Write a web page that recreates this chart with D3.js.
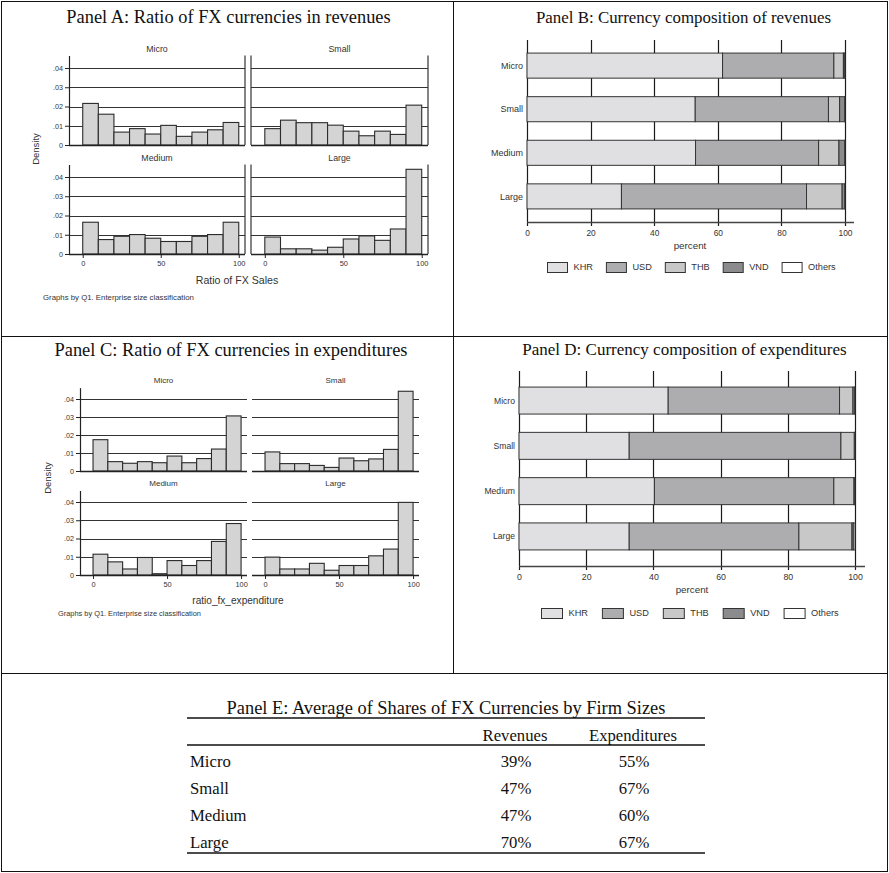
<!DOCTYPE html>
<html>
<head>
<meta charset="utf-8">
<script src="https://cdn.jsdelivr.net/npm/d3@7"></script>
<style>
  body { margin: 0; background: #fff; }
  svg { display: block; }
</style>
</head>
<body>
<svg id="fig" width="889" height="873"></svg>
<script>
// ---- Data ---------------------------------------------------------------
const sizeClasses = ["Micro", "Small", "Medium", "Large"];
const binStarts = [0, 10, 20, 30, 40, 50, 60, 70, 80, 90];
const binWidth = 10;
const densityTicks = [0, 0.01, 0.02, 0.03, 0.04];
const densityTickLabels = ["0", ".01", ".02", ".03", ".04"];
const ratioTicks = [0, 50, 100];
const percentTicks = [0, 20, 40, 60, 80, 100];

// Density of the FX share of sales, 10-point bins
const revMicro  = [0.0216, 0.0160, 0.0067, 0.0085, 0.0057, 0.0102, 0.0045, 0.0067, 0.0079, 0.0117];
const revSmall  = [0.0085, 0.0129, 0.0116, 0.0116, 0.0103, 0.0072, 0.0048, 0.0072, 0.0055, 0.0207];
const revMedium = [0.0165, 0.0075, 0.0092, 0.0101, 0.0082, 0.0065, 0.0065, 0.0092, 0.0101, 0.0165];
const revLarge  = [0.0088, 0.0027, 0.0027, 0.0020, 0.0035, 0.0078, 0.0094, 0.0071, 0.0130, 0.0440];

// Density of the FX share of expenditures, 10-point bins
const expMicro  = [0.0174, 0.0052, 0.0043, 0.0052, 0.0046, 0.0083, 0.0046, 0.0069, 0.0122, 0.0306];
const expSmall  = [0.0106, 0.0041, 0.0041, 0.0031, 0.0020, 0.0072, 0.0057, 0.0067, 0.0120, 0.0443];
const expMedium = [0.0114, 0.0072, 0.0033, 0.0096, 0.0007, 0.0079, 0.0052, 0.0079, 0.0184, 0.0282];
const expLarge  = [0.0098, 0.0033, 0.0033, 0.0064, 0.0026, 0.0052, 0.0052, 0.0105, 0.0142, 0.0398];

// Currency composition (percent), in sizeClasses order
const currencies = ["KHR", "USD", "THB", "VND", "Others"];
const revKHR    = [61.5, 52.9, 53.0, 29.7];
const revUSD    = [35.0, 41.9, 38.7, 58.2];
const revTHB    = [3.0, 3.5, 6.4, 11.2];
const revVND    = [0.4, 1.6, 1.8, 0.8];
const revOthers = [0.1, 0.1, 0.1, 0.1];

const expKHR    = [44.4, 32.8, 40.3, 32.8];
const expUSD    = [51.0, 63.0, 53.4, 50.5];
const expTHB    = [4.0, 4.0, 6.0, 15.8];
const expVND    = [0.5, 0.1, 0.2, 0.4];
const expOthers = [0.1, 0.1, 0.1, 0.5];

// Average FX share by firm size (percent)
const avgRevenues     = [39, 47, 47, 70];
const avgExpenditures = [55, 67, 60, 67];

// ---- Styling ------------------------------------------------------------
const SERIF = "'Liberation Serif', 'Times New Roman', serif";
const SANS = "'Liberation Sans', Arial, sans-serif";
const INK = "#222";
const currencyFill = { KHR: "#e0e0e2", USD: "#adadaf", THB: "#c8c8c9", VND: "#8b8b8d", Others: "#ffffff" };

const svg = d3.select("#fig");
svg.append("rect").attr("width", 889).attr("height", 873).attr("fill", "#fff");

// ---- Panel frame --------------------------------------------------------
const frame = svg.append("g").attr("stroke", "#111").attr("stroke-width", 1).attr("fill", "none");
frame.append("rect").attr("x", 1.5).attr("y", 1.5).attr("width", 886).attr("height", 870);
frame.append("line").attr("x1", 453.5).attr("x2", 453.5).attr("y1", 1.5).attr("y2", 673.5);
frame.append("line").attr("x1", 1.5).attr("x2", 887.5).attr("y1", 336.5).attr("y2", 336.5);
frame.append("line").attr("x1", 1.5).attr("x2", 887.5).attr("y1", 673.5).attr("y2", 673.5);

function title(text, x, y, size) {
  svg.append("text").attr("x", x).attr("y", y).attr("text-anchor", "middle")
    .attr("font-family", SERIF).attr("font-size", size).attr("fill", "#111").text(text);
}

// ---- Histogram small multiple ------------------------------------------
function histogram(values, xr, yBase, yPer01, label, opts) {
  const g = svg.append("g");
  const x = d3.scaleLinear().domain([-8.8, 104]).range(xr);
  const y = d3.scaleLinear().domain([0, 0.01]).range([yBase, yBase - yPer01]);
  const yTop = y(opts.yMax);

  // horizontal grid
  g.selectAll(null).data(densityTicks.slice(1)).join("line")
    .attr("x1", xr[0]).attr("x2", xr[1])
    .attr("y1", d => Math.round(y(d)) + 0.5).attr("y2", d => Math.round(y(d)) + 0.5)
    .attr("stroke", "#333").attr("stroke-width", 1);

  // bars
  g.selectAll(null).data(values).join("rect")
    .attr("x", (d, i) => x(binStarts[i]))
    .attr("width", (d, i) => x(binStarts[i] + binWidth) - x(binStarts[i]))
    .attr("y", d => y(d))
    .attr("height", d => y(0) - y(d))
    .attr("fill", "#d4d4d4").attr("stroke", "#2b2b2b").attr("stroke-width", 1.1);

  // baseline
  g.append("line").attr("x1", xr[0]).attr("x2", xr[1])
    .attr("y1", Math.round(y(0)) + 0.5).attr("y2", Math.round(y(0)) + 0.5)
    .attr("stroke", "#222").attr("stroke-width", 1.3);

  // left axis (left column only) / side frame lines
  if (opts.yAxis) {
    const ax = g.append("g").attr("transform", `translate(${xr[0]},0)`)
      .call(d3.axisLeft(d3.scaleLinear().domain([0, opts.yMax]).range([y(0), yTop]))
        .tickValues(densityTicks).tickFormat((d, i) => densityTickLabels[i])
        .tickSize(4).tickSizeOuter(0).tickPadding(2));
    ax.select(".domain").attr("stroke", "#222").attr("stroke-width", 1.2);
    ax.selectAll(".tick line").attr("stroke", "#222");
    ax.selectAll("text").attr("font-family", SANS).attr("font-size", 7.2).attr("fill", "#333");
  }
  if (opts.sideLines) {
    const sides = opts.yAxis ? [xr[1]] : [xr[0], xr[1]];
    g.selectAll(null).data(sides).join("line")
      .attr("x1", d => d).attr("x2", d => d).attr("y1", yTop).attr("y2", y(0))
      .attr("stroke", "#333").attr("stroke-width", 1.2);
  }
  if (opts.xAxis) {
    const ax = g.append("g").attr("transform", `translate(0,${y(0)})`)
      .call(d3.axisBottom(x).tickValues(ratioTicks).tickFormat(d3.format("d"))
        .tickSize(4).tickSizeOuter(0).tickPadding(3));
    ax.select(".domain").remove();
    ax.selectAll(".tick line").attr("stroke", "#222");
    ax.selectAll("text").attr("font-family", SANS).attr("font-size", 7.4).attr("fill", "#333");
  }
  // subplot label
  svg.append("text").attr("x", (xr[0] + xr[1]) / 2).attr("y", opts.labelY)
    .attr("text-anchor", "middle").attr("dy", "0.35em")
    .attr("font-family", SANS).attr("font-size", opts.labelSize).attr("fill", "#333").text(label);
}

// ---- Panel A ------------------------------------------------------------
title("Panel A: Ratio of FX currencies in revenues", 228.5, 23, 18.4);
const aCols = [[69, 245], [251, 428]];
const revSeries = [revMicro, revSmall, revMedium, revLarge];
revSeries.forEach((vals, i) => {
  const col = i % 2, row = Math.floor(i / 2);
  histogram(vals, aCols[col], row === 0 ? 145 : 254, 19.25, sizeClasses[i], {
    yMax: 0.0465, yAxis: col === 0, xAxis: row === 1, sideLines: true,
    labelY: row === 0 ? 49 : 158, labelSize: 8.8
  });
});
svg.append("text").attr("transform", "translate(36,149) rotate(-90)")
  .attr("text-anchor", "middle").attr("dy", "0.35em")
  .attr("font-family", SANS).attr("font-size", 9.5).attr("fill", "#333").text("Density");
svg.append("text").attr("x", 237).attr("y", 280).attr("text-anchor", "middle").attr("dy", "0.35em")
  .attr("font-family", SANS).attr("font-size", 10.6).attr("fill", "#333").text("Ratio of FX Sales");
svg.append("text").attr("x", 43).attr("y", 297).attr("dy", "0.35em")
  .attr("font-family", SANS).attr("font-size", 7.8).attr("fill", "#333")
  .text("Graphs by Q1. Enterprise size classification");

// ---- Panel C ------------------------------------------------------------
title("Panel C: Ratio of FX currencies in expenditures", 231, 356, 18.4);
const cCols = [[80, 247], [252, 419]];
const expSeries = [expMicro, expSmall, expMedium, expLarge];
expSeries.forEach((vals, i) => {
  const col = i % 2, row = Math.floor(i / 2);
  histogram(vals, cCols[col], row === 0 ? 471 : 575, row === 0 ? 18 : 18.25, sizeClasses[i], {
    yMax: 0.0463, yAxis: col === 0, xAxis: row === 1, sideLines: false,
    labelY: row === 0 ? 380 : 483, labelSize: 8
  });
});
svg.append("text").attr("transform", "translate(48,478) rotate(-90)")
  .attr("text-anchor", "middle").attr("dy", "0.35em")
  .attr("font-family", SANS).attr("font-size", 9.5).attr("fill", "#333").text("Density");
svg.append("text").attr("x", 238).attr("y", 600).attr("text-anchor", "middle").attr("dy", "0.35em")
  .attr("font-family", SANS).attr("font-size", 10.1).attr("fill", "#333").text("ratio_fx_expenditure");
svg.append("text").attr("x", 58).attr("y", 613).attr("dy", "0.35em")
  .attr("font-family", SANS).attr("font-size", 7.4).attr("fill", "#333")
  .text("Graphs by Q1. Enterprise size classification");

// ---- Stacked composition bars ------------------------------------------
function compositionChart(cols, o) {
  const rows = sizeClasses.map((s, i) => {
    const r = { size: s };
    currencies.forEach((c, k) => { r[c] = cols[k][i]; });
    return r;
  });
  const series = d3.stack().keys(currencies)(rows);
  const x = d3.scaleLinear().domain([0, 100]).range(o.xr);
  const y = d3.scaleBand().domain(sizeClasses).range(o.yr)
    .paddingInner(o.padIn).paddingOuter(o.padOut);
  const g = svg.append("g");

  // vertical grid (extends below the axis as tick marks)
  g.selectAll(null).data(percentTicks).join("line")
    .attr("x1", d => Math.round(x(d)) + 0.5).attr("x2", d => Math.round(x(d)) + 0.5)
    .attr("y1", o.yr[0]).attr("y2", o.yr[1] + 4)
    .attr("stroke", "#1a1a1a").attr("stroke-width", 1.2);

  // stacked bars
  g.selectAll(null).data(series).join("g")
    .attr("fill", d => currencyFill[d.key])
    .selectAll("rect").data(d => d).join("rect")
    .attr("x", d => x(d[0])).attr("width", d => x(d[1]) - x(d[0]))
    .attr("y", d => y(d.data.size)).attr("height", y.bandwidth())
    .attr("stroke", "#333").attr("stroke-width", 1);

  // bottom axis
  g.append("line").attr("x1", x(0)).attr("x2", x(100) + o.axisExtra)
    .attr("y1", o.yr[1] + 0.5).attr("y2", o.yr[1] + 0.5)
    .attr("stroke", "#444").attr("stroke-width", 1.3);
  const ax = g.append("g").attr("transform", `translate(0,${o.yr[1]})`)
    .call(d3.axisBottom(x).tickValues(percentTicks).tickFormat(d3.format("d"))
      .tickSize(4).tickSizeOuter(0).tickPadding(4));
  ax.select(".domain").remove();
  ax.selectAll(".tick line").remove();
  ax.selectAll("text").attr("font-family", SANS).attr("font-size", o.tickSize).attr("fill", "#333");

  // category labels
  g.selectAll(null).data(sizeClasses).join("text")
    .attr("x", x(0) - 4).attr("y", d => y(d) + y.bandwidth() / 2)
    .attr("text-anchor", "end").attr("dy", "0.35em")
    .attr("font-family", SANS).attr("font-size", o.catSize).attr("fill", "#333").text(d => d);

  // axis title
  svg.append("text").attr("x", o.percentX).attr("y", o.percentY)
    .attr("text-anchor", "middle").attr("dy", "0.35em")
    .attr("font-family", SANS).attr("font-size", 9.8).attr("fill", "#333").text("percent");

  // legend
  const lg = svg.append("g");
  let cx = o.legendX;
  currencies.forEach(c => {
    lg.append("rect").attr("x", cx + 0.5).attr("y", o.legendY - 5 + 0.5)
      .attr("width", o.boxW).attr("height", 10)
      .attr("fill", currencyFill[c]).attr("stroke", "#333").attr("stroke-width", 1);
    const t = lg.append("text").attr("x", cx + o.boxW + 6.5).attr("y", o.legendY)
      .attr("dy", "0.35em").attr("font-family", SANS).attr("font-size", 9.2)
      .attr("fill", "#333").text(c);
    cx = cx + o.boxW + 6.5 + t.node().getComputedTextLength() + o.legendGap;
  });
}

title("Panel B: Currency composition of revenues", 683.5, 23, 16.9);
compositionChart([revKHR, revUSD, revTHB, revVND, revOthers], {
  xr: [527, 845], yr: [40, 222], padIn: 0.425, padOut: 0.3, axisExtra: 9,
  tickSize: 8.4, catSize: 9, percentX: 690, percentY: 246,
  legendX: 547, legendY: 267, boxW: 20, legendGap: 13
});

title("Panel D: Currency composition of expenditures", 684.5, 355, 17);
compositionChart([expKHR, expUSD, expTHB, expVND, expOthers], {
  xr: [519, 855], yr: [371, 566], padIn: 0.404, padOut: 0.355, axisExtra: 10,
  tickSize: 8.8, catSize: 8.6, percentX: 692, percentY: 590,
  legendX: 541, legendY: 613, boxW: 21, legendGap: 14
});

// ---- Panel E: summary table --------------------------------------------
const tLeft = 187, tRight = 705;
const colRev = 515, colExp = 633;
const tg = svg.append("g").attr("font-family", SERIF).attr("fill", "#111");
tg.append("text").attr("x", (tLeft + tRight) / 2).attr("y", 714).attr("text-anchor", "middle")
  .attr("font-size", 18.4).text("Panel E: Average of Shares of FX Currencies by Firm Sizes");
[718, 745, 853].forEach(yy => {
  svg.append("line").attr("x1", tLeft).attr("x2", tRight).attr("y1", yy).attr("y2", yy)
    .attr("stroke", "#111").attr("stroke-width", 1.4);
});
tg.append("text").attr("x", colRev).attr("y", 741).attr("text-anchor", "middle")
  .attr("font-size", 16.7).text("Revenues");
tg.append("text").attr("x", colExp).attr("y", 741).attr("text-anchor", "middle")
  .attr("font-size", 16.7).text("Expenditures");
const rowY = d3.scalePoint().domain(sizeClasses).range([767, 848]);
sizeClasses.forEach((s, i) => {
  tg.append("text").attr("x", 190).attr("y", rowY(s)).attr("font-size", 16.7).text(s);
  tg.append("text").attr("x", colRev + 1).attr("y", rowY(s)).attr("text-anchor", "middle")
    .attr("font-size", 16.7).text(avgRevenues[i] + "%");
  tg.append("text").attr("x", colExp + 1).attr("y", rowY(s)).attr("text-anchor", "middle")
    .attr("font-size", 16.7).text(avgExpenditures[i] + "%");
});
</script>
</body>
</html>
